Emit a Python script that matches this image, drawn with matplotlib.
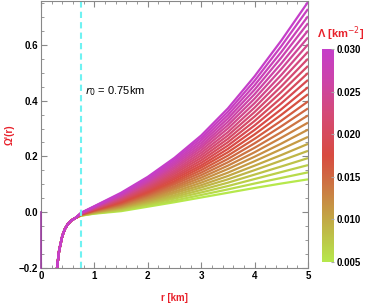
import numpy as np
import matplotlib
matplotlib.use("Agg")
import matplotlib.pyplot as plt
from matplotlib.colors import LinearSegmentedColormap, Normalize
from matplotlib.ticker import MultipleLocator

plt.rcParams['font.family'] = ['Liberation Sans', 'DejaVu Sans']

# Lambda values [km^-2], one curve each
lambdas = np.round(np.arange(0.005, 0.0305, 0.001), 3)

# Common inner branch (all curves coincide for r < r0)
r_inner = [0.28, 0.30, 0.34, 0.40, 0.45, 0.50, 0.57, 0.65]
w_inner = [-0.245, -0.200, -0.137, -0.084, -0.059, -0.043, -0.029, -0.020]

# Outer branch, read per curve (rows follow lambdas)
r_outer = [0.75, 1.0, 1.5, 2.0, 2.5, 3.0, 3.5, 4.0, 4.5, 5.0]
w_outer = [
    [-0.012, -0.005, 0.004, 0.020, 0.036, 0.053, 0.070, 0.087, 0.103, 0.118],
    [-0.012, -0.004, 0.007, 0.024, 0.042, 0.062, 0.082, 0.103, 0.123, 0.143],
    [-0.011, -0.003, 0.009, 0.029, 0.049, 0.071, 0.094, 0.119, 0.144, 0.169],
    [-0.011, -0.002, 0.012, 0.033, 0.055, 0.080, 0.106, 0.135, 0.164, 0.194],
    [-0.010, -0.001, 0.015, 0.037, 0.061, 0.089, 0.118, 0.151, 0.185, 0.220],
    [-0.010, 0.000, 0.017, 0.041, 0.068, 0.097, 0.130, 0.167, 0.205, 0.245],
    [-0.010, 0.001, 0.020, 0.046, 0.074, 0.106, 0.142, 0.183, 0.226, 0.270],
    [-0.009, 0.003, 0.022, 0.050, 0.081, 0.115, 0.155, 0.199, 0.246, 0.296],
    [-0.009, 0.004, 0.025, 0.054, 0.087, 0.124, 0.167, 0.215, 0.267, 0.321],
    [-0.008, 0.005, 0.028, 0.059, 0.093, 0.133, 0.179, 0.231, 0.287, 0.347],
    [-0.008, 0.006, 0.030, 0.063, 0.100, 0.142, 0.191, 0.247, 0.308, 0.372],
    [-0.008, 0.007, 0.033, 0.067, 0.106, 0.151, 0.203, 0.263, 0.328, 0.397],
    [-0.007, 0.008, 0.036, 0.071, 0.112, 0.160, 0.215, 0.279, 0.349, 0.423],
    [-0.007, 0.009, 0.038, 0.076, 0.119, 0.168, 0.227, 0.295, 0.369, 0.448],
    [-0.006, 0.010, 0.041, 0.080, 0.125, 0.177, 0.239, 0.311, 0.390, 0.474],
    [-0.006, 0.011, 0.044, 0.084, 0.131, 0.186, 0.251, 0.327, 0.410, 0.499],
    [-0.006, 0.012, 0.046, 0.088, 0.138, 0.195, 0.263, 0.343, 0.431, 0.524],
    [-0.005, 0.013, 0.049, 0.093, 0.144, 0.204, 0.275, 0.359, 0.451, 0.550],
    [-0.005, 0.014, 0.052, 0.097, 0.150, 0.213, 0.287, 0.375, 0.472, 0.575],
    [-0.004, 0.016, 0.054, 0.101, 0.157, 0.222, 0.300, 0.391, 0.492, 0.601],
    [-0.004, 0.017, 0.057, 0.106, 0.163, 0.231, 0.312, 0.407, 0.513, 0.626],
    [-0.004, 0.018, 0.059, 0.110, 0.170, 0.239, 0.324, 0.423, 0.533, 0.651],
    [-0.003, 0.019, 0.062, 0.114, 0.176, 0.248, 0.336, 0.439, 0.554, 0.677],
    [-0.003, 0.020, 0.065, 0.118, 0.182, 0.257, 0.348, 0.455, 0.574, 0.702],
    [-0.002, 0.021, 0.067, 0.123, 0.189, 0.266, 0.360, 0.471, 0.595, 0.728],
    [-0.002, 0.022, 0.070, 0.127, 0.195, 0.275, 0.372, 0.487, 0.615, 0.753],
]

# spike at r = 0
r_spike = [0.0, 0.0]
w_spike = [-0.2, 0.0]

r0 = 0.75

cmap = LinearSegmentedColormap.from_list("lam", [
    (0.00, "#b6e84c"),
    (0.20, "#c2a845"),
    (0.40, "#cf6842"),
    (0.50, "#d84b40"),
    (0.70, "#d44a78"),
    (0.85, "#cc44a8"),
    (1.00, "#c53ec9"),
])
norm = Normalize(vmin=lambdas.min(), vmax=lambdas.max())

fig = plt.figure(figsize=(3.66, 3.04), dpi=100)
ax = fig.add_axes([0.112, 0.118, 0.7295, 0.879])

for lam, row in zip(lambdas, w_outer):
    rr = list(r_inner) + list(r_outer)
    ww = list(w_inner) + list(row)
    ax.plot(rr, ww, color=cmap(norm(lam)), lw=1.6, solid_capstyle="butt")

ax.plot(r_spike, w_spike, color="#9a3aa0", lw=1.2, clip_on=False, zorder=5)
ax.axvline(r0, color="#6ff2f2", lw=1.5, ls=(0, (3, 2)))
ax.text(0.82, 0.434, r"$r_0$ = 0.75km", fontsize=8, va="center", ha="left")

ax.set_xlim(0, 5)
ax.set_ylim(-0.2, 0.757)
ax.xaxis.set_major_locator(MultipleLocator(1))
ax.xaxis.set_minor_locator(MultipleLocator(0.2))
ax.yaxis.set_major_locator(MultipleLocator(0.2))
ax.yaxis.set_minor_locator(MultipleLocator(0.05))
ax.tick_params(which="both", direction="in", top=True, right=True,
               color="#888888", labelsize=7, pad=2)
ax.tick_params(which="major", length=4)
ax.tick_params(which="minor", length=2)
for s in ax.spines.values():
    s.set_color("#888888")
ax.set_yticks([-0.2, 0.0, 0.2, 0.4, 0.6])
ax.set_yticklabels(["\u22120.2", "0.0", "0.2", "0.4", "0.6"], fontweight="bold")
ax.set_xticks([0, 1, 2, 3, 4, 5])
ax.set_xticklabels(["0", "1", "2", "3", "4", "5"], fontweight="bold")

ax.set_xlabel("r [km]", color="#e8202a", fontweight="bold", fontsize=7)
ax.set_ylabel("\u03a9'(r)", color="#e8202a", fontweight="bold", fontsize=7)
ax.xaxis.set_label_coords(0.50, -0.094)
ax.yaxis.set_label_coords(-0.098, 0.5)

cax = fig.add_axes([0.88, 0.138, 0.033, 0.701])
sm = plt.cm.ScalarMappable(cmap=cmap, norm=norm)
cb = fig.colorbar(sm, cax=cax, ticks=[0.005, 0.010, 0.015, 0.020, 0.025, 0.030])
cb.outline.set_visible(False)
cb.ax.set_yticklabels(["0.005", "0.010", "0.015", "0.020", "0.025", "0.030"],
                      fontweight="bold")
cb.ax.tick_params(labelsize=7, length=2, color="#aaaaaa", direction="in", pad=2)
cb.ax.yaxis.set_minor_locator(MultipleLocator(0.001))
cb.ax.tick_params(which="minor", length=0)
fig.text(0.93, 0.89, "\u039b [km$^{-2}$]", color="#e8202a", fontweight="bold",
         fontsize=8, ha="center", va="center")

fig.savefig("out.png", dpi=100)
